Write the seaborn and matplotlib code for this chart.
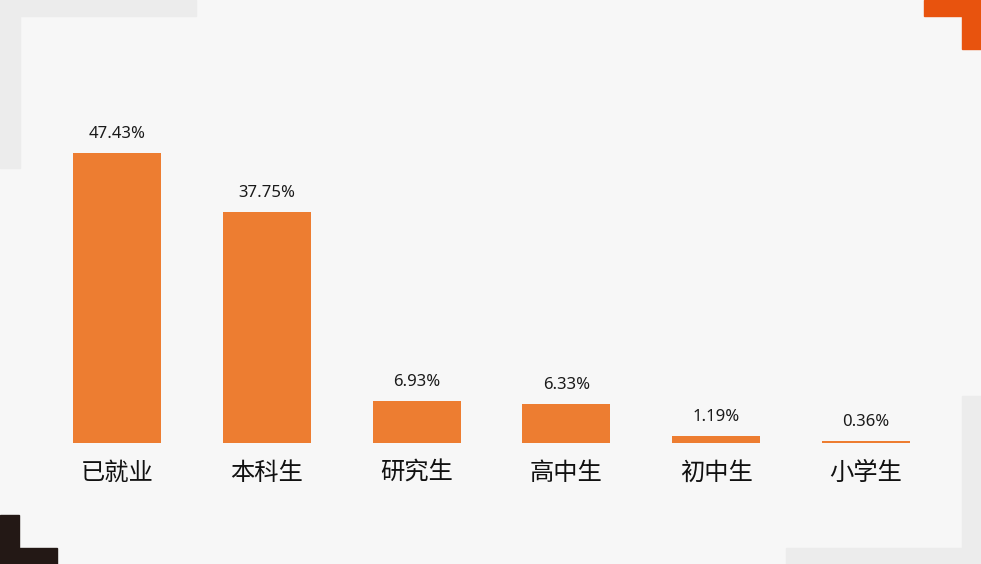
import matplotlib
matplotlib.use("Agg")
import matplotlib.pyplot as plt
import pandas as pd
import seaborn as sns
from matplotlib.patches import Rectangle

# data
categories = ['已就业', '本科生', '研究生', '高中生', '初中生', '小学生']
shares = [47.43, 37.75, 6.93, 6.33, 1.19, 0.36]

W, H = 981, 564
BG = '#f7f7f7'
BAR = '#ed7d31'

sns.set_style("white")
plt.rcParams['font.family'] = ['Noto Sans CJK SC', 'DejaVu Sans']

fig = plt.figure(figsize=(W / 100, H / 100), dpi=100)
fig.patch.set_facecolor(BG)


def corner(x, y, w, h, color):
    # x, y in pixels from top-left
    fig.patches.append(Rectangle((x / W, 1 - (y + h) / H), w / W, h / H,
                                 transform=fig.transFigure, color=color, zorder=0))


# corner decorations
corner(0, 0, 196, 16, '#ececec')
corner(0, 0, 20, 168, '#ececec')
corner(924, 0, 57, 16, '#e8530e')
corner(962, 0, 19, 49, '#e8530e')
corner(0, 515, 19, 49, '#231815')
corner(0, 548, 57, 16, '#231815')
corner(962, 396, 19, 168, '#ececec')
corner(786, 548, 195, 16, '#ececec')

ax = fig.add_axes([42 / W, (H - 443) / H, 899 / W, 305.7 / H])
ax.set_facecolor('none')

df = pd.DataFrame({'cat': categories, 'val': shares})
sns.barplot(data=df, x='cat', y='val', color=BAR, width=0.587,
            saturation=1, linewidth=0, ax=ax)

ax.set_xlim(-0.5, len(categories) - 0.5)
ax.set_ylim(0, 50)
for i, v in enumerate(shares):
    ax.annotate(f'{v:.2f}%', (i, v), xytext=(0, 8), textcoords='offset points',
                ha='center', va='bottom', fontsize=12, color='#1a1a1a',
                family=['Noto Sans', 'DejaVu Sans'])

ax.set_xlabel('')
ax.set_ylabel('')
ax.set_yticks([])
ax.tick_params(axis='x', length=0, pad=12, labelsize=17.5, labelcolor='#111111')
sns.despine(ax=ax, left=True, bottom=True)

fig.savefig('out.png', dpi=100, facecolor=BG)
